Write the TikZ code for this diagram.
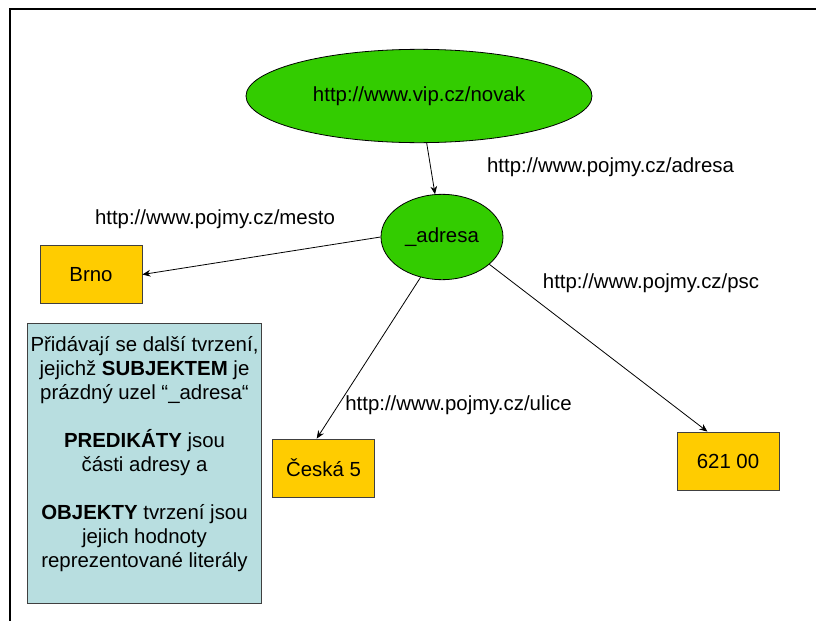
\documentclass[tikz,border=0pt]{standalone}
\usepackage{fontspec}
\setmainfont{Liberation Sans}
\usetikzlibrary{shapes.geometric, arrows.meta}

\definecolor{uzelgreen}{RGB}{51,204,0}
\definecolor{literalyellow}{RGB}{255,204,0}
\definecolor{poznamkablue}{RGB}{184,222,224}

\begin{document}
\begin{tikzpicture}[x=0.75pt, y=-0.75pt,
		every node/.style={font=\fontsize{15.3}{18}\selectfont},
		resource/.style={ellipse, draw, line width=0.6pt, fill=uzelgreen, inner sep=0pt},
		literal/.style={rectangle, draw=black!75, line width=0.6pt, fill=literalyellow, inner sep=0pt, minimum width=76.5pt, minimum height=43.5pt},
		link/.style={line width=0.6pt, -{Stealth[length=6pt, width=5pt]}}]
		\useasboundingbox (0,0) rectangle (816,621);

		% Draw the frame
		\draw[line width=1.5pt] (816,9) -- (10,9) -- (10,621);

		% Resources
		\node[resource, minimum width=259.5pt, minimum height=70pt] (novak) at (419,96) {http://www.vip.cz/novak};
		\node[resource, minimum width=91.5pt, minimum height=64pt] (adresa) at (442,237) {\_adresa};

		% Literals
		\node[literal] (brno) at (91,274.5) {Brno};
		\node[literal, minimum width=77pt] (ceska) at (323.5,468) {Česká 5};
		\node[literal] (psc) at (728,461) {621 00};

		% Predicates
		\node (lbladresa) at (610.5,167) {http://www.pojmy.cz/adresa};
		\node (lblmesto) at (215,219) {http://www.pojmy.cz/mesto};
		\node (lblpsc) at (651,283) {http://www.pojmy.cz/psc};
		\node (lblulice) at (458.5,405) {http://www.pojmy.cz/ulice};

		\draw[link] (novak) -- (adresa);
		\draw[link] (adresa.west) -- (brno.east);
		\draw[link] (adresa.242) -- (ceska.103);
		\draw[link] (adresa.330) -- (psc.125);

		% Draw the note
		\node[rectangle, draw=black!75, line width=0.6pt, fill=poznamkablue, inner sep=0pt,
			minimum width=176pt, minimum height=210pt, align=center] (poznamka) at (144.5,463)
			{Přidávají se další tvrzení,\\
			jejichž \textbf{SUBJEKTEM} je\\
			prázdný uzel “\_adresa“\\[18pt]
			\textbf{PREDIKÁTY} jsou\\
			části adresy a\\[18pt]
			\textbf{OBJEKTY} tvrzení jsou\\
			jejich hodnoty\\
			reprezentované literály\\[-1.5pt]\mbox{}};

\end{tikzpicture}
\end{document}
